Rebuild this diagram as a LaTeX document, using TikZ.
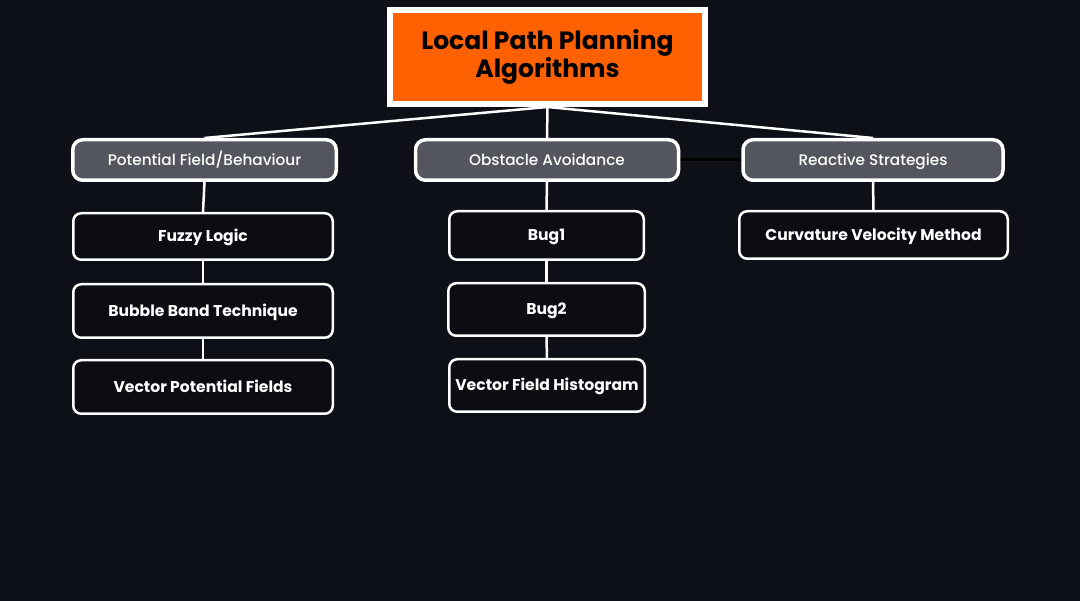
\documentclass[tikz,border=0pt]{standalone}
\usepackage{fontspec}
\newfontfamily\popfont{Poppins}
\newfontfamily\popmed{Poppins Medium}
\definecolor{bgc}{HTML}{0D1017}
\definecolor{orangec}{HTML}{FF6100}
\definecolor{grayc}{HTML}{53565E}
\definecolor{leafc}{HTML}{0B0D12}
\pgfdeclarelayer{bg}
\pgfdeclarelayer{edges}
\pgfsetlayers{bg,edges,main}
\tikzset{
  titlebox/.style={draw=white, line width=6pt, fill=orangec, minimum width=315pt, minimum height=94pt, inner sep=0pt, align=center, font=\popfont\bfseries\fontsize{25}{28.5}\selectfont, text=black},
  catbox/.style={draw=white, line width=3.5pt, fill=grayc, rounded corners=10pt, minimum height=40.5pt, inner sep=0pt, text height=10.7pt, text depth=0pt, font=\popmed\fontsize{15.3}{17}\selectfont, text=white},
  leafbox/.style={draw=white, line width=2.5pt, fill=leafc, rounded corners=8pt, inner sep=0pt, text height=11pt, text depth=0pt, font=\popfont\bfseries\fontsize{15.6}{18}\selectfont, text=white},
  conn/.style={draw=white, line width=2.5pt},
  darkconn/.style={draw=black, line width=3pt}
}
\begin{document}
\begin{tikzpicture}[x=1pt,y=-1pt]
\begin{pgfonlayer}{bg}
\fill[bgc] (0,0) rectangle (1080,601);
\end{pgfonlayer}
\useasboundingbox (0,0) rectangle (1080,601);
\node[titlebox] (title) at (547.5,57) {Local Path Planning\\Algorithms};
\node[catbox, minimum width=263.5pt] (pf) at (204.5,160) {Potential Field/Behaviour};
\node[catbox, minimum width=263pt] (oa) at (547,160) {Obstacle Avoidance};
\node[catbox, minimum width=260pt] (rs) at (873,160) {Reactive Strategies};
\node[leafbox, minimum width=259.5pt, minimum height=46.5pt] (fl) at (203,236.5) {Fuzzy Logic};
\node[leafbox, minimum width=259.5pt, minimum height=53.5pt] (bb) at (203,311) {Bubble Band Technique};
\node[leafbox, minimum width=259.5pt, minimum height=53.5pt] (vp) at (203,387) {Vector Potential Fields};
\node[leafbox, minimum width=194.5pt, minimum height=48.5pt] (b1) at (546.5,235.5) {Bug1};
\node[leafbox, minimum width=196.5pt, minimum height=52.5pt] (b2) at (546.5,309.5) {Bug2};
\node[leafbox, minimum width=195.5pt, minimum height=52.5pt] (vf) at (547,385.5) {Vector Field Histogram};
\node[leafbox, minimum width=268.5pt, minimum height=47.5pt] (cv) at (873.5,235) {Curvature Velocity Method};
\begin{pgfonlayer}{edges}
\draw[conn] (title.south) -- (pf.north);
\draw[conn] (title.south) -- (oa.north);
\draw[conn] (title.south) -- (rs.north);
\draw[conn] (pf.south) -- (fl.north);
\draw[conn] (fl.south) -- (bb.north);
\draw[conn] (bb.south) -- (vp.north);
\draw[conn] (oa.south) -- (b1.north);
\draw[conn] (b1.south) -- (b2.north);
\draw[conn] (b2.south) -- (vf.north);
\draw[conn] (rs.south) -- (cv.north);
\draw[darkconn] (oa.east) -- (rs.west);
\end{pgfonlayer}
\end{tikzpicture}
\end{document}
